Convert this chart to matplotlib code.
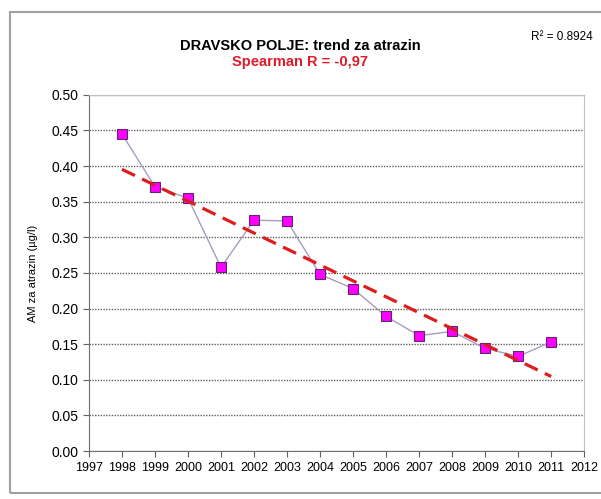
import numpy as np
import matplotlib.pyplot as plt
from matplotlib.patches import Rectangle

years = [1998, 1999, 2000, 2001, 2002, 2003, 2004, 2005, 2006, 2007, 2008, 2009, 2010, 2011]
atrazin = [0.445, 0.371, 0.355, 0.258, 0.324, 0.323, 0.248, 0.228, 0.189, 0.162, 0.168, 0.144, 0.133, 0.153]
yticks = [0.00, 0.05, 0.10, 0.15, 0.20, 0.25, 0.30, 0.35, 0.40, 0.45, 0.50]
xticks = list(range(1997, 2013))

plt.rcParams['font.family'] = ['Liberation Sans', 'DejaVu Sans']

fig = plt.figure(figsize=(6.01, 4.99), dpi=100, facecolor='white')
ax = fig.add_axes([0.148, 0.096, 0.824, 0.714])

# outer chart frame
fig.patches.append(Rectangle((10 / 601, 6 / 499), 1.2, 481 / 499, transform=fig.transFigure,
                             fill=False, edgecolor='#a0a0a0', linewidth=1.5))

x = np.array(years)
y = np.array(atrazin)
k, b = np.polyfit(x, y, 1)  # linear trend

ax.plot(x, y, color='#a89cc0', linewidth=1, zorder=3)
ax.plot(x, y, 's', markersize=7.5, markerfacecolor='#ff00ff', markeredgecolor='#5a2a6a',
        markeredgewidth=0.8, zorder=4)
ax.plot(x, k * x + b, '--', color='#dd1c1c', linewidth=2.3, dashes=(4.5, 2.5), zorder=5)

ax.set_xlim(1997, 2012)
ax.set_ylim(0, 0.5)
ax.set_xticks(xticks)
ax.set_yticks(yticks)
ax.set_yticklabels([f"{v:.2f}" for v in yticks])
ax.tick_params(direction='out', length=4, labelsize=10, color='#606060')
ax.tick_params(axis='x', labelsize=9)
ax.yaxis.grid(True, linestyle=(0, (1, 1)), color='#606060', linewidth=1)
ax.set_axisbelow(True)
for s in ['left', 'bottom']:
    ax.spines[s].set_color('#707070')
for s in ['top', 'right']:
    ax.spines[s].set_color('#c0c0c0')

ax.set_ylabel('AM za atrazin (µg/l)', fontsize=8, labelpad=10)

fig.text(0.50, 0.908, 'DRAVSKO POLJE: trend za atrazin', ha='center', va='center',
         fontsize=10.5, fontweight='bold')
fig.text(0.50, 0.875, 'Spearman R = -0,97', ha='center', va='center',
         fontsize=10.5, fontweight='bold', color='#dd1c2c')
fig.text(0.935, 0.925, 'R² = 0.8924', ha='center', va='center', fontsize=8.5)

fig.savefig('out.png', dpi=100, facecolor='white')
